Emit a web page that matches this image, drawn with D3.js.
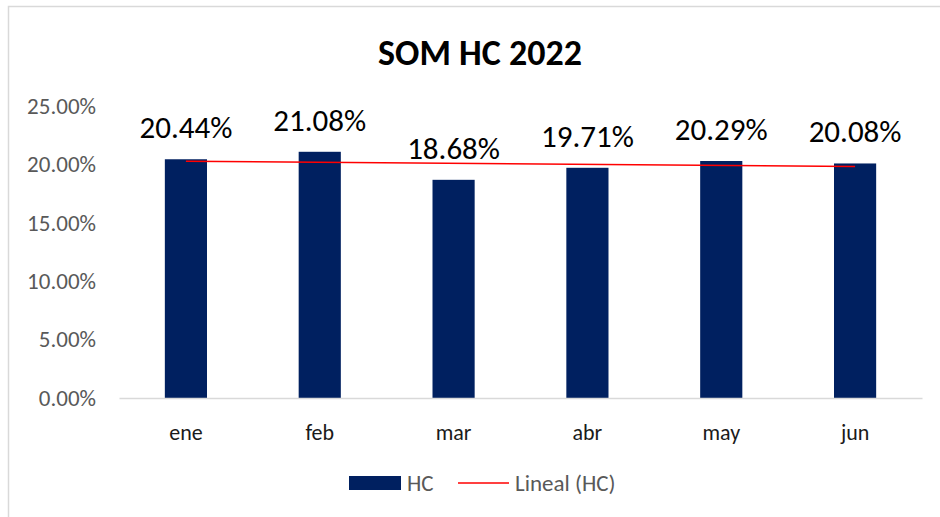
<!DOCTYPE html>
<html>
<head>
<meta charset="utf-8">
<script src="https://cdn.jsdelivr.net/npm/d3@7"></script>
<style>
  html, body { margin: 0; padding: 0; background: #fff; }
  svg { display: block; font-family: Carlito, "Open Sans", "Noto Sans", sans-serif; }
</style>
</head>
<body>
<svg id="chart" width="940" height="517"></svg>
<script>
// === DATA ===
const months = ["ene", "feb", "mar", "abr", "may", "jun"];
const hcValues = [20.44, 21.08, 18.68, 19.71, 20.29, 20.08];
const yTicks = [0, 5, 10, 15, 20, 25];
const chartTitle = "SOM HC 2022";
const legendLabels = ["HC", "Lineal (HC)"];

// === LAYOUT ===
const margin = { top: 106, right: 18, bottom: 119, left: 119 };
const W = 940, H = 517;
const barColor = "#002060";
const trendColor = "#ff0000";
const fontStack = "Carlito, 'Open Sans', 'Noto Sans', sans-serif";

const svg = d3.select("#chart");

// chart frame (only top/left visible in the shot)
svg.append("rect")
  .attr("x", 8.5).attr("y", 6.5)
  .attr("width", 960).attr("height", 540)
  .attr("fill", "#fff")
  .attr("stroke", "#d9d9d9")
  .attr("stroke-width", 1.5);

const x = d3.scaleBand()
  .domain(months)
  .range([margin.left, W - margin.right])
  .paddingInner(0.685)
  .paddingOuter(0.3425);

const y = d3.scaleLinear()
  .domain([0, 25])
  .range([H - margin.bottom, margin.top]);

// title
svg.append("text")
  .attr("x", 480).attr("y", 65)
  .attr("text-anchor", "middle")
  .style("font-weight", "700")
  .style("font-size", "36px")
  .style("fill", "#000")
  .text(chartTitle);

// y axis labels (no line, no ticks)
const yAxis = svg.append("g")
  .attr("transform", `translate(${margin.left - 23},0)`)
  .call(d3.axisLeft(y).tickValues(yTicks).tickSize(0).tickPadding(0)
    .tickFormat(d => d.toFixed(2) + "%"));
yAxis.select(".domain").remove();
yAxis.selectAll("text")
  .style("font-family", fontStack)
  .style("font-size", "23px")
  .style("fill", "#595959");

// bars
svg.append("g").selectAll("rect")
  .data(months)
  .join("rect")
  .attr("x", d => x(d))
  .attr("width", x.bandwidth())
  .attr("y", (d, i) => y(hcValues[i]))
  .attr("height", (d, i) => y(0) - y(hcValues[i]))
  .attr("fill", barColor);

// x axis baseline + category labels
const xAxis = svg.append("g")
  .attr("transform", `translate(0,${y(0)})`)
  .call(d3.axisBottom(x).tickSize(0).tickPadding(26).tickSizeOuter(0));
xAxis.select(".domain")
  .attr("stroke", "#d9d9d9")
  .attr("stroke-width", 1.5);
xAxis.selectAll("text")
  .style("font-family", fontStack)
  .style("font-size", "22px")
  .style("fill", "#1a1a1a");

// linear trend (least squares over month index 1..6)
const xs = hcValues.map((d, i) => i + 1);
const mx = d3.mean(xs), my = d3.mean(hcValues);
const slope = d3.sum(xs, (xi, i) => (xi - mx) * (hcValues[i] - my)) /
              d3.sum(xs, xi => (xi - mx) * (xi - mx));
const intercept = my - slope * mx;
const trendPts = [1, months.length].map(k => [
  x(months[k - 1]) + x.bandwidth() / 2,
  y(intercept + slope * k)
]);
svg.append("path")
  .attr("d", d3.line()(trendPts))
  .attr("fill", "none")
  .attr("stroke", trendColor)
  .attr("stroke-width", 1.5);

// data labels
svg.append("g").selectAll("text")
  .data(months)
  .join("text")
  .attr("x", d => x(d) + x.bandwidth() / 2)
  .attr("y", (d, i) => y(hcValues[i]) - 21)
  .attr("text-anchor", "middle")
  .style("font-size", "31px")
  .style("fill", "#000")
  .text((d, i) => hcValues[i].toFixed(2) + "%");

// legend
const legend = svg.append("g").attr("transform", "translate(349,483)");
legend.append("rect")
  .attr("x", 0).attr("y", -7)
  .attr("width", 52).attr("height", 14)
  .attr("fill", barColor);
legend.append("text")
  .attr("x", 58).attr("y", 8)
  .style("font-size", "23px").style("fill", "#595959")
  .text(legendLabels[0]);
legend.append("line")
  .attr("x1", 109).attr("x2", 160)
  .attr("y1", 0).attr("y2", 0)
  .attr("stroke", trendColor).attr("stroke-width", 1.5);
legend.append("text")
  .attr("x", 166).attr("y", 8)
  .style("font-size", "23px").style("fill", "#595959")
  .text(legendLabels[1]);
</script>
</body>
</html>
